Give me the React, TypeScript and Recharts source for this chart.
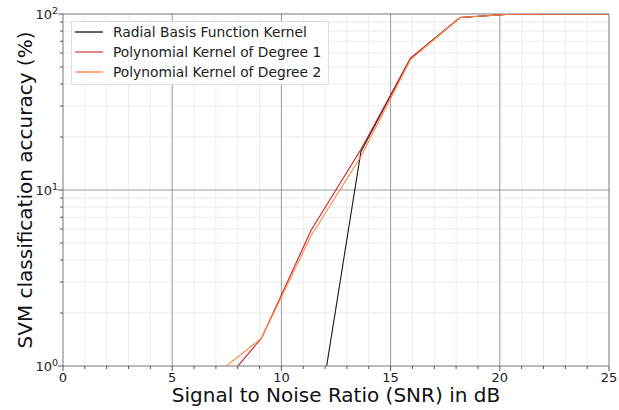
import React from "react";
import { LineChart, Line, XAxis, YAxis, ReferenceLine } from "recharts";

// SNR sample points (dB)
const snr = [0, 2.27, 4.55, 6.82, 9.09, 11.36, 13.64, 15.91, 18.18, 20.45, 22.73, 25];
// Classification accuracy (%) per kernel; null where below the plotted range
const rbfAcc = [null, null, null, null, null, 0.28, 16.5, 56, 95.5, 99.6, 100, 100];
const poly1Acc = [null, null, null, 0.67, 1.44, 5.9, 17, 56, 95.5, 99.6, 100, 100];
const poly2Acc = [null, null, null, 0.86, 1.44, 5.5, 15.5, 55, 95.5, 99.6, 100, 100];

const seriesNames = [
  "Radial Basis Function Kernel",
  "Polynomial Kernel of Degree 1",
  "Polynomial Kernel of Degree 2",
];
const seriesColors = ["#1a1a1a", "#c8222a", "#ff8a3d"];
const legendColors = ["#666666", "#e08a8a", "#ffb07a"];

const xTicks = Array.from({ length: 26 }, (_, i) => i);
const xMajor = [5, 10, 15, 20];
const yTicks = [1, 2, 3, 4, 5, 6, 7, 8, 9, 10, 20, 30, 40, 50, 60, 70, 80, 90, 100];
const yMajorExp: Record<number, number> = { 1: 0, 10: 1, 100: 2 };

const data = snr.map((s, i) => ({
  snr: s,
  rbf: rbfAcc[i],
  poly1: poly1Acc[i],
  poly2: poly2Acc[i],
}));

const FONT = "'DejaVu Sans', sans-serif";

const XTick = (props: any) => {
  const { x, y, payload } = props;
  const v = payload.value as number;
  const major = v % 5 === 0;
  return (
    <g>
      <line x1={x} x2={x} y1={y} y2={y + (major ? 5 : 3)} stroke="#555" strokeWidth={1} />
      {major && (
        <text x={x} y={y + 15.5} textAnchor="middle" fontFamily={FONT} fontSize={13} fill="#222">
          {v}
        </text>
      )}
    </g>
  );
};

const YTick = (props: any) => {
  const { x, y, payload } = props;
  const v = payload.value as number;
  const exp = yMajorExp[v];
  const major = exp !== undefined;
  return (
    <g>
      <line x1={x - (major ? 5 : 3)} x2={x} y1={y} y2={y} stroke="#555" strokeWidth={1} />
      {major && (
        <text x={x - 5} y={y + 5} textAnchor="end" fontFamily={FONT} fontSize={13} fill="#222">
          10
          <tspan dy={-5.5} fontSize={9.5}>
            {exp}
          </tspan>
        </text>
      )}
    </g>
  );
};

const LegendBox = () => (
  <div
    style={{
      position: "absolute",
      left: 71,
      top: 21,
      border: "1px solid #dddddd",
      borderRadius: 3,
      background: "rgba(255,255,255,0.85)",
      padding: "0px 7px 2px 3px",
      fontFamily: FONT,
      fontSize: 13.8,
      color: "#222",
    }}
  >
    {seriesNames.map((n, i) => (
      <div key={n} style={{ display: "flex", alignItems: "center", height: 20, whiteSpace: "nowrap" }}>
        <svg width={38} height={10}>
          <line x1={0} x2={28} y1={5} y2={5} stroke={legendColors[i]} strokeWidth={2} />
        </svg>
        <span>{n}</span>
      </div>
    ))}
  </div>
);

export default function App() {
  const minorX = xTicks.filter((v) => v % 5 !== 0);
  const minorY = yTicks.filter((v) => yMajorExp[v] === undefined);
  return (
    <div style={{ position: "absolute", left: 0, top: 0, width: 619, height: 410, background: "#fff" }}>
      <LineChart width={619} height={410} data={data} margin={{ top: 14, right: 10, left: 0, bottom: 0 }}>
        <XAxis
          dataKey="snr"
          type="number"
          domain={[0, 25]}
          ticks={xTicks}
          interval={0}
          tickLine={false}
          tickSize={0}
          tickMargin={0}
          height={44}
          axisLine={{ stroke: "#777" }}
          tick={<XTick />}
          allowDataOverflow
        />
        <YAxis
          scale="log"
          domain={[1, 100]}
          ticks={yTicks}
          interval={0}
          tickLine={false}
          tickSize={0}
          tickMargin={0}
          width={63}
          axisLine={{ stroke: "#777" }}
          tick={<YTick />}
          allowDataOverflow
        />
        {minorX.map((v) => (
          <ReferenceLine key={"mx" + v} x={v} stroke="#ececec" strokeWidth={1} />
        ))}
        {minorY.map((v) => (
          <ReferenceLine key={"my" + v} y={v} stroke="#ececec" strokeWidth={1} />
        ))}
        {xMajor.map((v) => (
          <ReferenceLine key={"Mx" + v} x={v} stroke="#9a9a9a" strokeWidth={1} />
        ))}
        <ReferenceLine y={10} stroke="#9a9a9a" strokeWidth={1} />
        <ReferenceLine y={100} stroke="#777" strokeWidth={1} />
        <ReferenceLine x={25} stroke="#777" strokeWidth={1} />
        <Line dataKey="rbf" type="linear" stroke={seriesColors[0]} strokeWidth={1.1} dot={false} isAnimationActive={false} />
        <Line dataKey="poly1" type="linear" stroke={seriesColors[1]} strokeWidth={1.1} dot={false} isAnimationActive={false} />
        <Line dataKey="poly2" type="linear" stroke={seriesColors[2]} strokeWidth={1.1} dot={false} isAnimationActive={false} />
      </LineChart>
      <LegendBox />
      <div
        style={{
          position: "absolute",
          left: 0,
          width: 672,
          top: 385,
          lineHeight: "20px",
          textAlign: "center",
          fontFamily: FONT,
          fontSize: 20,
          color: "#111",
          whiteSpace: "nowrap",
        }}
      >
        Signal to Noise Ratio (SNR) in dB
      </div>
      <div
        style={{
          position: "absolute",
          left: 25,
          top: 190,
          transform: "translate(-50%, -50%) rotate(-90deg)",
          fontFamily: FONT,
          fontSize: 20,
          color: "#111",
          whiteSpace: "nowrap",
        }}
      >
        SVM classification accuracy (%)
      </div>
    </div>
  );
}
